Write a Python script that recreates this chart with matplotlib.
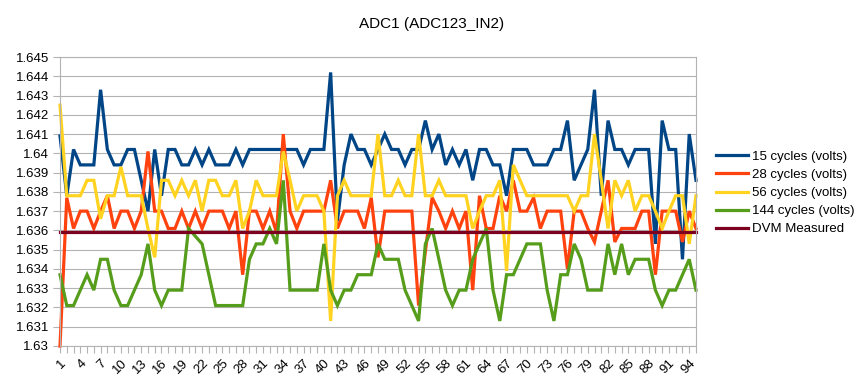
import matplotlib
matplotlib.use("Agg")
import matplotlib.pyplot as plt

plt.rcParams['font.family'] = ['Liberation Sans', 'DejaVu Sans']

samples = list(range(1, 96))

cycles_15 = [1.6409, 1.6378, 1.6402, 1.6394, 1.6394, 1.6394, 1.6433, 1.6402, 1.6394, 1.6394,
             1.6402, 1.6402, 1.6386, 1.6370, 1.6402, 1.6378, 1.6402, 1.6402, 1.6394, 1.6394,
             1.6402, 1.6394, 1.6402, 1.6394, 1.6394, 1.6394, 1.6402, 1.6394, 1.6402, 1.6402,
             1.6402, 1.6402, 1.6402, 1.6402, 1.6402, 1.6402, 1.6394, 1.6402, 1.6402, 1.6402,
             1.6442, 1.6365, 1.6394, 1.6410, 1.6402, 1.6402, 1.6394, 1.6402, 1.6410, 1.6402,
             1.6402, 1.6394, 1.6402, 1.6402, 1.6417, 1.6402, 1.6410, 1.6394, 1.6402, 1.6394,
             1.6402, 1.6386, 1.6402, 1.6402, 1.6394, 1.6394, 1.6378, 1.6402, 1.6402, 1.6402,
             1.6394, 1.6394, 1.6394, 1.6402, 1.6402, 1.6417, 1.6386, 1.6394, 1.6402, 1.6433,
             1.6378, 1.6417, 1.6402, 1.6402, 1.6394, 1.6402, 1.6402, 1.6402, 1.6353, 1.6417,
             1.6402, 1.6402, 1.6345, 1.6410, 1.6386]

cycles_28 = [1.6300, 1.6377, 1.6361, 1.6370, 1.6370, 1.6361, 1.6370, 1.6378, 1.6361, 1.6370,
             1.6370, 1.6361, 1.6370, 1.6401, 1.6370, 1.6370, 1.6361, 1.6361, 1.6370, 1.6361,
             1.6370, 1.6361, 1.6370, 1.6370, 1.6370, 1.6361, 1.6370, 1.6337, 1.6370, 1.6370,
             1.6361, 1.6370, 1.6359, 1.6410, 1.6370, 1.6361, 1.6370, 1.6370, 1.6370, 1.6370,
             1.6386, 1.6361, 1.6370, 1.6370, 1.6370, 1.6361, 1.6377, 1.6346, 1.6370, 1.6370,
             1.6370, 1.6370, 1.6370, 1.6321, 1.6349, 1.6377, 1.6370, 1.6361, 1.6370, 1.6361,
             1.6370, 1.6329, 1.6378, 1.6361, 1.6361, 1.6378, 1.6370, 1.6386, 1.6370, 1.6370,
             1.6377, 1.6361, 1.6370, 1.6370, 1.6370, 1.6340, 1.6370, 1.6370, 1.6361, 1.6354,
             1.6370, 1.6386, 1.6354, 1.6361, 1.6361, 1.6361, 1.6370, 1.6370, 1.6337, 1.6370,
             1.6370, 1.6370, 1.6354, 1.6370, 1.6361]

cycles_56 = [1.6425, 1.6378, 1.6378, 1.6378, 1.6386, 1.6386, 1.6366, 1.6378, 1.6378, 1.6393,
             1.6378, 1.6378, 1.6378, 1.6361, 1.6346, 1.6386, 1.6386, 1.6378, 1.6386, 1.6378,
             1.6386, 1.6370, 1.6386, 1.6386, 1.6378, 1.6378, 1.6386, 1.6361, 1.6370, 1.6386,
             1.6378, 1.6378, 1.6378, 1.6401, 1.6386, 1.6370, 1.6378, 1.6378, 1.6378, 1.6370,
             1.6313, 1.6378, 1.6386, 1.6378, 1.6378, 1.6378, 1.6378, 1.6410, 1.6378, 1.6378,
             1.6386, 1.6378, 1.6378, 1.6410, 1.6378, 1.6378, 1.6386, 1.6378, 1.6378, 1.6378,
             1.6378, 1.6361, 1.6370, 1.6378, 1.6378, 1.6386, 1.6339, 1.6394, 1.6386, 1.6378,
             1.6378, 1.6378, 1.6378, 1.6378, 1.6378, 1.6378, 1.6370, 1.6378, 1.6378, 1.6410,
             1.6386, 1.6361, 1.6386, 1.6378, 1.6386, 1.6370, 1.6378, 1.6378, 1.6370, 1.6361,
             1.6370, 1.6378, 1.6378, 1.6353, 1.6378]

cycles_144 = [1.6337, 1.6321, 1.6321, 1.6329, 1.6337, 1.6329, 1.6345, 1.6345, 1.6329, 1.6321,
              1.6321, 1.6329, 1.6337, 1.6353, 1.6329, 1.6321, 1.6329, 1.6329, 1.6329, 1.6361,
              1.6357, 1.6353, 1.6337, 1.6321, 1.6321, 1.6321, 1.6321, 1.6321, 1.6345, 1.6353,
              1.6353, 1.6361, 1.6353, 1.6386, 1.6329, 1.6329, 1.6329, 1.6329, 1.6329, 1.6353,
              1.6329, 1.6321, 1.6329, 1.6329, 1.6337, 1.6337, 1.6337, 1.6353, 1.6345, 1.6345,
              1.6345, 1.6329, 1.6321, 1.6313, 1.6353, 1.6361, 1.6345, 1.6329, 1.6321, 1.6329,
              1.6329, 1.6345, 1.6353, 1.6361, 1.6329, 1.6313, 1.6337, 1.6337, 1.6345, 1.6353,
              1.6353, 1.6353, 1.6329, 1.6313, 1.6337, 1.6337, 1.6353, 1.6345, 1.6329, 1.6329,
              1.6329, 1.6353, 1.6337, 1.6353, 1.6337, 1.6345, 1.6345, 1.6345, 1.6329, 1.6321,
              1.6329, 1.6329, 1.6337, 1.6345, 1.6329]

dvm_measured = [1.6359] * len(samples)

series = [
    ("15 cycles (volts)", cycles_15, "#004586"),
    ("28 cycles (volts)", cycles_28, "#ff420e"),
    ("56 cycles (volts)", cycles_56, "#ffd320"),
    ("144 cycles (volts)", cycles_144, "#579d1c"),
    ("DVM Measured", dvm_measured, "#7e0021"),
]

y_ticks = [1.63, 1.631, 1.632, 1.633, 1.634, 1.635, 1.636, 1.637,
           1.638, 1.639, 1.64, 1.641, 1.642, 1.643, 1.644, 1.645]

fig = plt.figure(figsize=(8.64, 3.84), dpi=100)
ax = fig.add_axes([60 / 864, 38 / 384, 636 / 864, 289 / 384])

for label, values, color in series:
    ax.plot(samples, values, color=color, linewidth=2.3, label=label,
            solid_joinstyle='miter', clip_on=False)

ax.set_xlim(samples[0], samples[-1])
ax.set_ylim(y_ticks[0], y_ticks[-1])

ax.set_yticks(y_ticks)
ax.set_yticklabels(["%g" % t for t in y_ticks], fontsize=9.5)
ax.set_xticks(samples)
ax.set_xticklabels([str(s) if (s - 1) % 3 == 0 else "" for s in samples],
                   fontsize=9.5, rotation=45, ha='right', rotation_mode='anchor')

ax.yaxis.grid(True, color='#b3b3b3', linewidth=0.8)
ax.set_axisbelow(True)
ax.tick_params(axis='both', color='#b3b3b3', length=5, width=0.8, pad=3)
for side in ["left", "right", "bottom", "top"]:
    ax.spines[side].set_color('#b3b3b3')
    ax.spines[side].set_linewidth(0.8)

fig.text(0.5, 1 - 24 / 384, "ADC1 (ADC123_IN2)", ha='center', va='center', fontsize=11)

fig.legend(loc='center left', bbox_to_anchor=(716 / 864, 1 - 193 / 384),
           frameon=False, fontsize=9.5, handlelength=2.4, handletextpad=0.35,
           labelspacing=0.45, borderpad=0, borderaxespad=0)

fig.savefig("out.png", dpi=100)
